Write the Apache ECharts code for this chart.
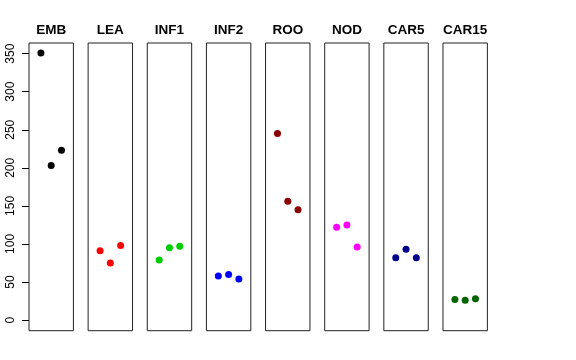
<!DOCTYPE html>
<html><head><meta charset="utf-8">
<script src="https://cdn.jsdelivr.net/npm/echarts@6/dist/echarts.min.js"></script>
<style>html,body{margin:0;padding:0;background:#fff}#c{width:576px;height:360px}</style>
</head><body><div id="c"></div>
<script>
var categories = ['EMB','LEA','INF1','INF2','ROO','NOD','CAR5','CAR15'];
var xPositions = [1, 2, 3];
var EMB   = [351, 203, 223];
var LEA   = [91, 75, 98];
var INF1  = [79, 95, 97];
var INF2  = [58, 60, 54];
var ROO   = [245, 156, 145];
var NOD   = [122, 125, 96];
var CAR5  = [82, 93, 82];
var CAR15 = [27, 26, 28];
var colors = ['#000000','#FF0000','#00CD00','#0000FF','#8B0000','#FF00FF','#00008B','#006400'];
var yTickMin = 0, yTickMax = 350, yTickStep = 50;

var panelValues = [EMB, LEA, INF1, INF2, ROO, NOD, CAR5, CAR15];
var left0 = 29, step = 59.14, panelW = 44.4, panelTop = 43, panelH = 287.7;
var yMin = -14, yMax = 364;
var pxPerUnit = panelH / (yMax - yMin);
var grids = [], xAxes = [], yAxes = [], series = [], titles = [];
categories.forEach(function (cat, i) {
  var l = left0 + step * i;
  grids.push({left: l, top: panelTop, width: panelW, height: panelH, show: true, borderColor: '#222', borderWidth: 1, backgroundColor: 'transparent'});
  xAxes.push({gridIndex: i, type: 'value', min: -0.16, max: 4.16, show: false});
  yAxes.push({gridIndex: i, type: 'value', min: yMin, max: yMax, show: false});
  series.push({
    type: 'scatter', xAxisIndex: i, yAxisIndex: i, symbol: 'circle', symbolSize: 7,
    itemStyle: {color: colors[i], opacity: 1},
    data: xPositions.map(function (x, k) { return [x, panelValues[i][k]]; })
  });
  titles.push({text: cat, left: l + panelW / 2, top: 23, textAlign: 'center', padding: 0,
    textStyle: {fontFamily: 'Liberation Sans, Arial, sans-serif', fontWeight: 'bold', fontSize: 13.5, color: '#000'}});
});
// axis-only grid spanning exactly the tick range
var n = categories.length;
grids.push({left: left0, width: panelW, top: panelTop + (yMax - yTickMax) * pxPerUnit, height: (yTickMax - yTickMin) * pxPerUnit, show: false});
xAxes.push({gridIndex: n, type: 'value', min: 0, max: 1, show: false});
yAxes.push({
  gridIndex: n, type: 'value', min: yTickMin, max: yTickMax, interval: yTickStep,
  splitLine: {show: false},
  axisLine: {show: false},
  axisTick: {show: true, length: 7, inside: false, lineStyle: {color: '#000'}},
  axisLabel: {show: true, rotate: 90, margin: 12, color: '#000',
              fontFamily: 'Liberation Sans, Arial, sans-serif', fontSize: 12}
});
var chart = echarts.init(document.getElementById('c'), null, {renderer: 'canvas'});
chart.setOption({animation: false, title: titles, grid: grids, xAxis: xAxes, yAxis: yAxes, series: series});
</script></body></html>
